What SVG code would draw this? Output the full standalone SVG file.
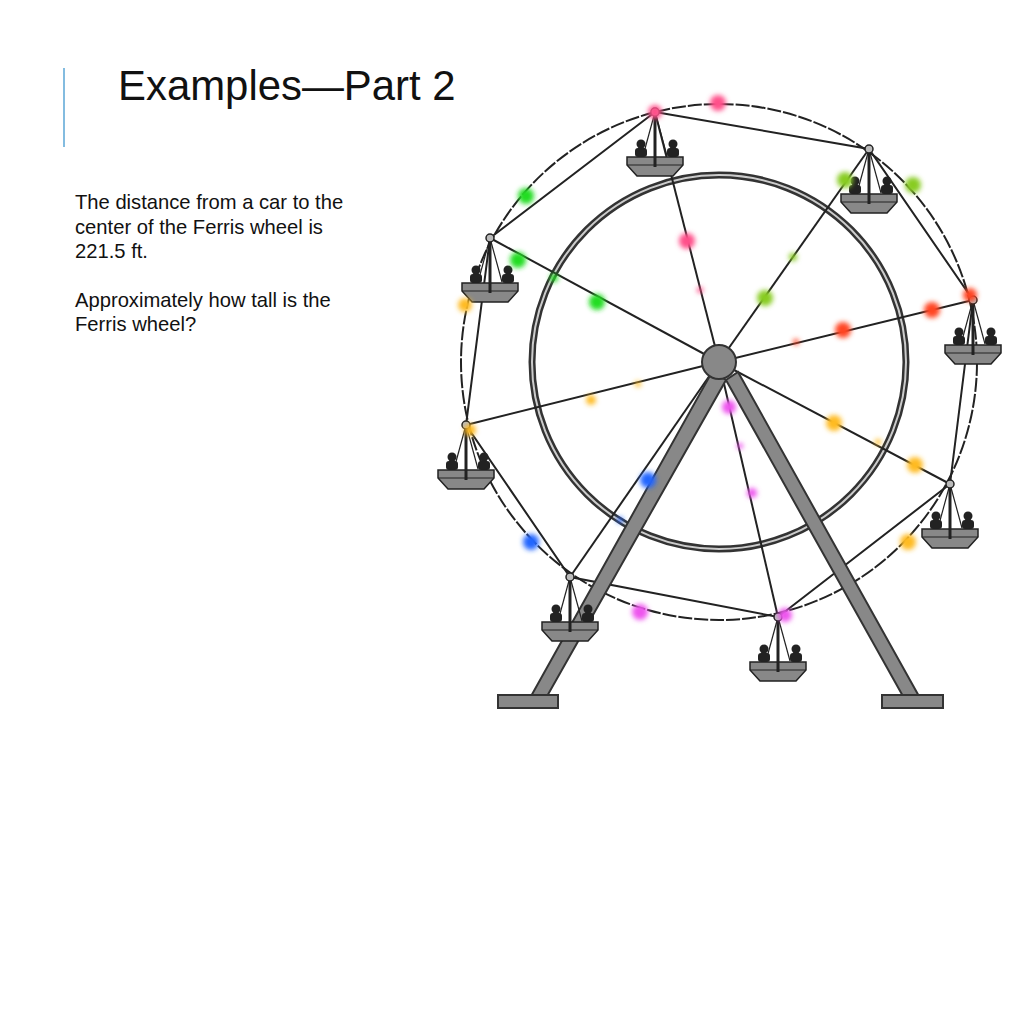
<svg xmlns="http://www.w3.org/2000/svg" xmlns:xlink="http://www.w3.org/1999/xlink" width="1024" height="1009" viewBox="0 0 1024 1009">
<style>
.t{font-family:"Liberation Sans",Arial,sans-serif;fill:#111}
.ln{stroke:#222;stroke-width:2;fill:none}
.lt{filter:url(#b)}
</style>
<defs>
<filter id="b" x="-1" y="-1" width="3" height="3"><feGaussianBlur stdDeviation="2.5"/></filter>
<g id="car">
<line x1="0" y1="0" x2="-12" y2="44" stroke="#222" stroke-width="1.2"/>
<line x1="0" y1="0" x2="12" y2="44" stroke="#222" stroke-width="1.2"/>
<circle cx="-14" cy="32" r="4.5" fill="#222"/><rect x="-20" y="36" width="12" height="9" rx="3" fill="#222"/>
<circle cx="18" cy="32" r="4.5" fill="#222"/><rect x="12" y="36" width="12" height="9" rx="3" fill="#222"/>
<path d="M-28 45 L28 45 L28 53 L18 64 L-18 64 L-28 53 Z" fill="#888" stroke="#222" stroke-width="1.5"/>
<line x1="-28" y1="53" x2="28" y2="53" stroke="#222" stroke-width="1"/>
<line x1="0" y1="0" x2="0" y2="55" stroke="#222" stroke-width="3"/>
<circle cx="0" cy="0" r="4" fill="#bbb" stroke="#222" stroke-width="1.5"/>
</g>
</defs>
<rect width="1024" height="1009" fill="#fff"/>
<line x1="64" y1="68" x2="64" y2="147" stroke="#5aa6d6" stroke-width="1.5"/>
<text class="t" x="118" y="100" font-size="41.9">Examples—Part 2</text>
<g class="t" font-size="20.2">
<text x="75" y="209">The distance from a car to the</text>
<text x="75" y="234">center of the Ferris wheel is</text>
<text x="75" y="258">221.5 ft.</text>
<text x="75" y="307">Approximately how tall is the</text>
<text x="75" y="331">Ferris wheel?</text>
</g>
<g id="wheel">
<circle cx="719" cy="362" r="258" class="ln" stroke-dasharray="14 2"/>
<circle cx="719" cy="362" r="187" fill="none" stroke="#333" stroke-width="7"/>
<circle cx="719" cy="362" r="187" fill="none" stroke="#ccc" stroke-width="2"/>
<polygon points="655,112 869,149 973,300 950,484 778,617 570,577 466,425 490,238" class="ln" stroke-width="1.5"/>
<g class="ln" stroke-width="1.6">
<line x1="719" y1="362" x2="655" y2="112"/><line x1="719" y1="362" x2="869" y2="149"/>
<line x1="719" y1="362" x2="973" y2="300"/><line x1="719" y1="362" x2="950" y2="484"/>
<line x1="719" y1="362" x2="778" y2="617"/><line x1="719" y1="362" x2="570" y2="577"/>
<line x1="719" y1="362" x2="466" y2="425"/><line x1="719" y1="362" x2="490" y2="238"/>
</g>
<g fill="#888" stroke="#333" stroke-width="2">
<polygon points="712,372 726,380 546,698 530,698"/>
<polygon points="726,380 738,372 920,698 904,698"/>
<rect x="498" y="695" width="60" height="13"/>
<rect x="882" y="695" width="61" height="13"/>
</g>
<circle cx="719" cy="362" r="17" fill="#888" stroke="#333" stroke-width="2"/>
<use xlink:href="#car" x="655" y="112"/><use xlink:href="#car" x="869" y="149"/>
<use xlink:href="#car" x="973" y="300"/><use xlink:href="#car" x="950" y="484"/>
<use xlink:href="#car" x="778" y="617"/><use xlink:href="#car" x="570" y="577"/>
<use xlink:href="#car" x="466" y="425"/><use xlink:href="#car" x="490" y="238"/>
<g class="lt">
<g fill="#ff4f8a"><circle cx="718" cy="103" r="8"/><circle cx="687" cy="241" r="8"/><circle cx="700" cy="290" r="3"/><circle cx="655" cy="112" r="7"/></g>
<g fill="#22dd22"><circle cx="526" cy="196" r="8"/><circle cx="518" cy="260" r="8"/><circle cx="597" cy="302" r="8"/><circle cx="554" cy="278" r="4"/></g>
<g fill="#88cc22"><circle cx="845" cy="180" r="8"/><circle cx="913" cy="185" r="8"/><circle cx="765" cy="298" r="8"/><circle cx="793" cy="257" r="4"/></g>
<g fill="#ff4422"><circle cx="843" cy="330" r="8"/><circle cx="932" cy="310" r="8"/><circle cx="970" cy="295" r="7"/><circle cx="796" cy="342" r="3"/></g>
<g fill="#ffbb22"><circle cx="465" cy="305" r="7"/><circle cx="591" cy="400" r="5"/><circle cx="638" cy="384" r="3"/><circle cx="470" cy="430" r="6"/><circle cx="834" cy="423" r="8"/><circle cx="915" cy="465" r="8"/><circle cx="908" cy="542" r="8"/><circle cx="878" cy="442" r="3"/></g>
<g fill="#2266ff"><circle cx="531" cy="542" r="8"/><circle cx="648" cy="480" r="8"/><circle cx="620" cy="520" r="3"/></g>
<g fill="#ee55ee"><circle cx="729" cy="407" r="7"/><circle cx="752" cy="493" r="5"/><circle cx="740" cy="446" r="3"/><circle cx="640" cy="612" r="8"/><circle cx="785" cy="615" r="7"/></g>
</g>
</g>
</svg>
